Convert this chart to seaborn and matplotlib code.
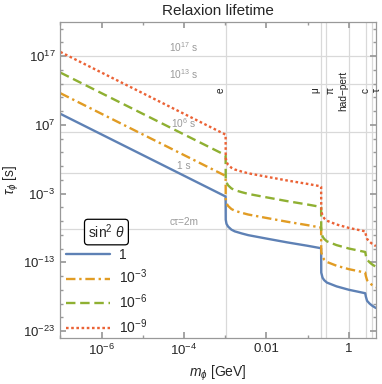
import numpy as np
import pandas as pd
import seaborn as sns
import matplotlib.pyplot as plt
from matplotlib.ticker import NullFormatter, FixedLocator

# relaxion mass grid [GeV] (dense around the thresholds)
mass_gev = [1e-7, 1.019e-3, 1.026e-3, 1.07e-3, 1.17e-3, 1.41e-3, 1.7e-3, 2.5e-3,
            3.6e-3, 0.01, 0.0316, 0.1, 0.209, 0.2113, 0.2128, 0.229, 0.251,
            0.292, 0.5, 1.0, 1.58, 2.48, 2.57, 2.75, 3.16, 3.63, 4.5]

# log10 of lifetime [s] for each sin^2 theta
tau_exp_1 = [8.6, -3.43, -6.8, -7.4, -7.8, -8.25, -8.5, -8.8, -9.05, -9.55, -10.1,
             -10.6, -10.95, -11.0, -14.5, -15.25, -15.6, -15.95, -16.5, -17.0,
             -17.25, -17.5, -18.0, -18.6, -19.0, -19.3, -19.65]
tau_exp_1e3 = [11.6, -0.43, -3.8, -4.4, -4.8, -5.25, -5.5, -5.8, -6.05, -6.55, -7.1,
               -7.6, -7.95, -8.0, -11.5, -12.25, -12.6, -12.95, -13.5, -14.0,
               -14.25, -14.5, -15.0, -15.6, -16.0, -16.3, -16.65]
tau_exp_1e6 = [14.6, 2.57, -0.8, -1.4, -1.8, -2.25, -2.5, -2.8, -3.05, -3.55, -4.1,
               -4.6, -4.95, -5.0, -8.5, -9.25, -9.6, -9.95, -10.5, -11.0,
               -11.25, -11.5, -12.0, -12.6, -13.0, -13.3, -13.65]
tau_exp_1e9 = [17.6, 5.57, 2.2, 1.6, 1.2, 0.75, 0.5, 0.2, -0.05, -0.55, -1.1,
               -1.6, -1.95, -2.0, -5.5, -6.25, -6.6, -6.95, -7.5, -8.0,
               -8.25, -8.5, -9.0, -9.6, -10.0, -10.3, -10.65]

mixing_labels = ['1', '$10^{-3}$', '$10^{-6}$', '$10^{-9}$']
line_colors = ['#5E81B5', '#E19C24', '#8FB032', '#EB6235']
line_styles = ['-', (0, (4, 1.6, 1, 1.6)), (0, (4, 2)), (0, (1.1, 1.1))]

# reference lifetimes (horizontal lines)
ref_times = [1e17, 1e13, 1e6, 1.0, 2.0 / 3e8]
ref_labels = ['$10^{17}$ s', '$10^{13}$ s', '$10^{6}$ s', '1 s', 'cτ=2m']

# decay thresholds (vertical lines)
thresholds = [1.022e-3, 0.2113, 0.27, 1.0, 2.54, 3.554]
threshold_labels = ['e', 'μ', 'π', 'had−pert', 'c', 'τ']
label_sides = ['right', 'right', 'left', 'right', 'center', 'left']


def main():
    sns.set_theme(style="ticks")
    plt.rcParams['font.family'] = ['Liberation Sans', 'DejaVu Sans']
    plt.rcParams['mathtext.fontset'] = 'custom'
    plt.rcParams['mathtext.rm'] = 'Liberation Sans'
    plt.rcParams['mathtext.it'] = 'Liberation Sans:italic'

    fig = plt.figure(figsize=(3.82, 3.84), dpi=100)
    ax = fig.add_axes([0.158, 0.12, 0.826, 0.8235])

    series = [tau_exp_1, tau_exp_1e3, tau_exp_1e6, tau_exp_1e9]
    for exps, lab, col, ls in zip(series, mixing_labels, line_colors, line_styles):
        df = pd.DataFrame({'mass': mass_gev, 'tau': 10.0 ** np.array(exps)})
        sns.lineplot(data=df, x='mass', y='tau', ax=ax, color=col, linestyle=ls,
                     linewidth=1.7, sort=False, estimator=None, label=lab)

    ax.set_xscale('log')
    ax.set_yscale('log')
    ax.set_xlim(1e-7, 4.5)
    ax.set_ylim(1e-24, 1e22)

    grid_col = '#d9d9d9'
    for t, lab in zip(ref_times, ref_labels):
        ax.axhline(t, color=grid_col, lw=0.9, zorder=0)
        ax.text(1e-4, t * 2.0, lab, color='#9a9a9a', fontsize=7.3,
                ha='center', va='bottom')
    for m, lab, side in zip(thresholds, threshold_labels, label_sides):
        ax.axvline(m, color=grid_col, lw=0.9, zorder=0)
        shift = {'right': 1 / 1.03, 'left': 1.03, 'center': 1.0}[side]
        ax.text(m * shift, 1e12, lab, fontsize=7.3, rotation=90,
                ha=side, va='center', color='#222222')

    ax.yaxis.set_major_locator(FixedLocator([1e-23, 1e-13, 1e-3, 1e7, 1e17]))
    ax.yaxis.set_minor_locator(FixedLocator([10.0 ** k for k in range(-23, 22, 2)]))
    ax.yaxis.set_minor_formatter(NullFormatter())
    ax.set_yticklabels(['$10^{-23}$', '$10^{-13}$', '$10^{-3}$', '$10^{7}$', '$10^{17}$'])
    ax.xaxis.set_major_locator(FixedLocator([1e-6, 1e-4, 1e-2, 1]))
    ax.xaxis.set_minor_locator(FixedLocator([1e-7, 1e-5, 1e-3, 1e-1]))
    ax.xaxis.set_minor_formatter(NullFormatter())
    ax.set_xticklabels(['$10^{-6}$', '$10^{-4}$', '0.01', '1'])
    ax.tick_params(which='both', direction='in', top=True, right=True,
                   color='#999999', labelsize=9.5)
    ax.tick_params(which='major', length=4)
    ax.tick_params(which='minor', length=2.5)
    for sp in ax.spines.values():
        sp.set_color('#999999')
        sp.set_linewidth(0.9)

    ax.set_xlabel(r'$m_\phi$ [GeV]', fontsize=10, labelpad=4)
    ax.set_ylabel(r'$\tau_\phi$ [s]', fontsize=10, labelpad=2)
    ax.set_title('Relaxion lifetime', fontsize=11, pad=5)

    leg = ax.legend(loc='lower left', bbox_to_anchor=(0.0, -0.012), frameon=False,
                    title=r'sin$^2$ $\theta$', title_fontsize=10, fontsize=10,
                    handlelength=3.2, labelspacing=0.45, borderaxespad=0.0,
                    handletextpad=0.6)
    leg.get_title().set_bbox(dict(boxstyle='round,pad=0.25', fc='white', ec='black', lw=0.9))

    fig.savefig('out.png', dpi=100)


if __name__ == "__main__":
    main()
